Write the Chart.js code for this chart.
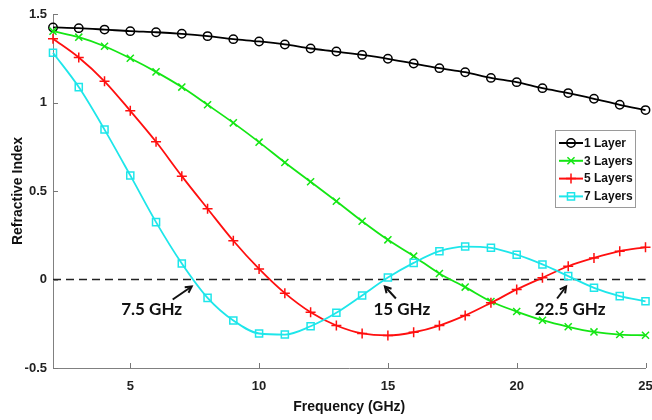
<!DOCTYPE html>
<html>
<head>
<meta charset="utf-8">
<script src="https://cdn.jsdelivr.net/npm/chart.js@4.4.1/dist/chart.umd.min.js"></script>
<style>
  html, body { margin: 0; padding: 0; background: #fff; }
</style>
</head>
<body>
<canvas id="c" width="652" height="420"></canvas>
<script>
// data
const freq = [2, 3, 4, 5, 6, 7, 8, 9, 10, 11, 12, 13, 14, 15, 16, 17, 18, 19, 20, 21, 22, 23, 24, 25];
const layer1 = [1.424, 1.420, 1.412, 1.403, 1.397, 1.388, 1.375, 1.358, 1.345, 1.328, 1.305, 1.288,
                1.269, 1.247, 1.220, 1.194, 1.171, 1.139, 1.115, 1.081, 1.053, 1.021, 0.987, 0.957];
const layer3 = [1.403, 1.369, 1.318, 1.250, 1.173, 1.087, 0.987, 0.885, 0.776, 0.661, 0.552, 0.442,
                0.329, 0.224, 0.132, 0.034, -0.043, -0.124, -0.181, -0.230, -0.267, -0.296, -0.311, -0.315];
const layer5 = [1.360, 1.254, 1.120, 0.953, 0.778, 0.584, 0.400, 0.219, 0.060, -0.077, -0.185, -0.260,
                -0.305, -0.316, -0.298, -0.260, -0.203, -0.132, -0.056, 0.010, 0.075, 0.122, 0.160, 0.182];
const layer7 = [1.281, 1.087, 0.847, 0.588, 0.324, 0.090, -0.104, -0.232, -0.305, -0.311, -0.264, -0.188,
                -0.090, 0.011, 0.094, 0.160, 0.186, 0.179, 0.140, 0.085, 0.019, -0.047, -0.094, -0.123];
const seriesNames = ['1 Layer', '3 Layers', '5 Layers', '7 Layers'];
const xTicks = [5, 10, 15, 20, 25];
const yTicks = [-0.5, 0, 0.5, 1, 1.5];
const noteText = ['7.5 GHz', '15 GHz', '22.5 GHz'];
const noteFreq = [7.5, 15, 22.5];

const pts = arr => arr.map((v, i) => ({ x: freq[i], y: v }));

const styles = [
  { color: '#000000', point: 'circle', r: 4.2 },
  { color: '#14e614', point: 'crossRot', r: 5 },
  { color: '#ff0f0f', point: 'cross', r: 5 },
  { color: '#1ee6ea', point: 'rect', r: 5 }
];
const values = [layer1, layer3, layer5, layer7];

const datasets = values.map((v, i) => ({
  label: seriesNames[i],
  data: pts(v),
  borderColor: styles[i].color,
  borderWidth: 1.8,
  pointStyle: styles[i].point,
  pointRadius: styles[i].r,
  pointBorderWidth: 1.5,
  pointBorderColor: styles[i].color,
  pointBackgroundColor: 'rgba(0,0,0,0)',
  cubicInterpolationMode: 'monotone',
  clip: false,
  order: 4 - i
}));

// dashed zero line, inward tick marks, arrows and the boxed legend
const extras = {
  id: 'extras',
  beforeDatasetsDraw(chart) {
    const { ctx, chartArea, scales } = chart;
    const y0 = scales.y.getPixelForValue(0);
    ctx.save();
    ctx.strokeStyle = '#222';
    ctx.lineWidth = 1.6;
    ctx.setLineDash([8, 5]);
    ctx.beginPath();
    ctx.moveTo(chartArea.left, y0);
    ctx.lineTo(chartArea.right, y0);
    ctx.stroke();
    ctx.setLineDash([]);
    // inward ticks
    ctx.strokeStyle = '#777';
    ctx.lineWidth = 1;
    xTicks.forEach(t => {
      const px = Math.round(scales.x.getPixelForValue(t)) + 0.5;
      ctx.beginPath();
      ctx.moveTo(px, chartArea.bottom);
      ctx.lineTo(px, chartArea.bottom - 5);
      ctx.stroke();
    });
    yTicks.forEach(t => {
      const py = Math.round(scales.y.getPixelForValue(t)) + 0.5;
      ctx.beginPath();
      ctx.moveTo(chartArea.left, py);
      ctx.lineTo(chartArea.left + 5, py);
      ctx.stroke();
    });
    ctx.restore();
  },
  afterDraw(chart) {
    const { ctx, scales } = chart;
    const offs = [
      { tip: [-3, 7], tail: [-22, 20], text: [-43, 30] },
      { tip: [-3, 7], tail: [8, 19], text: [14, 30] },
      { tip: [-15, 7], tail: [-24, 19], text: [-11, 30] }
    ];
    ctx.save();
    noteText.forEach((txt, i) => {
      const ax = scales.x.getPixelForValue(noteFreq[i]);
      const ay = scales.y.getPixelForValue(0);
      const o = offs[i];
      const tx = ax + o.tip[0], ty = ay + o.tip[1];
      const sx = ax + o.tail[0], sy = ay + o.tail[1];
      ctx.strokeStyle = '#111';
      ctx.lineWidth = 2;
      ctx.beginPath();
      ctx.moveTo(sx, sy);
      ctx.lineTo(tx, ty);
      ctx.stroke();
      const ang = Math.atan2(ty - sy, tx - sx);
      ctx.beginPath();
      ctx.moveTo(tx - 7 * Math.cos(ang - 0.5), ty - 7 * Math.sin(ang - 0.5));
      ctx.lineTo(tx, ty);
      ctx.lineTo(tx - 7 * Math.cos(ang + 0.5), ty - 7 * Math.sin(ang + 0.5));
      ctx.stroke();
      ctx.fillStyle = '#111';
      ctx.font = 'bold 17px Lato';
      ctx.textAlign = 'center';
      ctx.textBaseline = 'middle';
      ctx.fillText(txt, ax + o.text[0], ay + o.text[1]);
    });

    // legend box
    const bx = 555, by = 130, bw = 80, bh = 77;
    ctx.fillStyle = '#fff';
    ctx.fillRect(bx, by, bw, bh);
    ctx.strokeStyle = '#9a9a9a';
    ctx.lineWidth = 1;
    ctx.strokeRect(bx + 0.5, by + 0.5, bw, bh);
    chart.data.datasets.forEach((ds, i) => {
      const y = by + 13 + i * 17.8;
      ctx.strokeStyle = ds.borderColor;
      ctx.lineWidth = 2;
      ctx.beginPath();
      ctx.moveTo(559, y);
      ctx.lineTo(583, y);
      ctx.stroke();
      ctx.fillStyle = 'rgba(0,0,0,0)';
      ctx.lineWidth = 1.5;
      Chart.helpers.drawPoint(ctx, { pointStyle: ds.pointStyle, radius: ds.pointRadius, borderWidth: 1.5, rotation: 0 }, 571, y);
      ctx.fillStyle = '#111';
      ctx.font = 'bold 12px "Liberation Sans"';
      ctx.textAlign = 'left';
      ctx.textBaseline = 'middle';
      ctx.fillText(ds.label, 584, y + 0.5);
    });
    ctx.restore();
  }
};

new Chart(document.getElementById('c'), {
  type: 'line',
  data: { datasets: datasets },
  options: {
    responsive: false,
    animation: false,
    layout: { padding: { top: 14, right: 2, left: 0, bottom: 0 } },
    plugins: { legend: { display: false }, tooltip: { enabled: false } },
    scales: {
      x: {
        type: 'linear',
        min: 2,
        max: 25,
        afterBuildTicks: s => { s.ticks = xTicks.map(v => ({ value: v })); },
        afterFit: s => { s.height = 52; s.paddingLeft = 0; s.paddingRight = 0; },
        grid: { drawOnChartArea: false, drawTicks: false },
        border: { display: true, color: '#808080', width: 1 },
        ticks: {
          padding: 11,
          maxRotation: 0,
          color: '#222',
          font: { family: '"Liberation Sans"', size: 13, weight: 'bold' },
          callback: v => String(v)
        },
        title: {
          display: true,
          text: 'Frequency (GHz)',
          color: '#111',
          padding: { top: 0, bottom: 4 },
          font: { family: '"Liberation Sans"', size: 14, weight: 'bold' }
        }
      },
      y: {
        min: -0.5,
        max: 1.5,
        afterBuildTicks: s => { s.ticks = yTicks.map(v => ({ value: v })); },
        afterFit: s => { s.width = 53; s.paddingTop = 0; s.paddingBottom = 0; },
        grid: { drawOnChartArea: false, drawTicks: false },
        border: { display: true, color: '#808080', width: 1 },
        ticks: {
          padding: 6,
          color: '#222',
          font: { family: '"Liberation Sans"', size: 13, weight: 'bold' },
          callback: v => String(v)
        },
        title: {
          display: true,
          text: 'Refractive Index',
          color: '#111',
          padding: { top: 10, bottom: 0 },
          font: { family: '"Liberation Sans"', size: 14, weight: 'bold' }
        }
      }
    }
  },
  plugins: [extras]
});
</script>
</body>
</html>
